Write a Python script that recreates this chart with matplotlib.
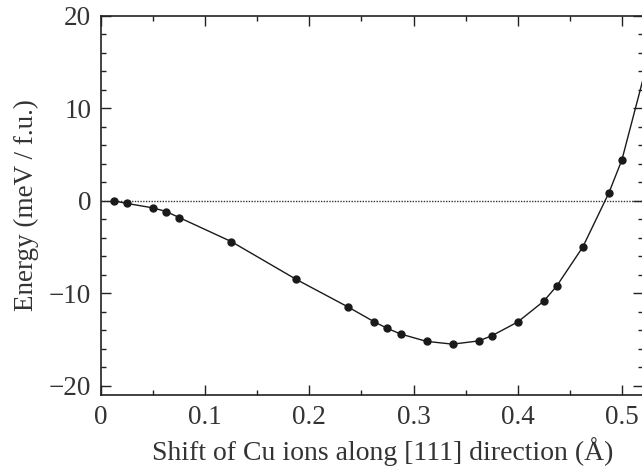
import numpy as np
import matplotlib
matplotlib.use("Agg")
import matplotlib.pyplot as plt
from matplotlib.ticker import MultipleLocator

# shift of Cu ions (Angstrom) and energy (meV / f.u.)
shift = [0.0125, 0.025, 0.05, 0.0625, 0.075, 0.125, 0.1875, 0.2375, 0.2625, 0.275,
         0.2875, 0.3125, 0.3375, 0.3625, 0.375, 0.4, 0.425, 0.4375, 0.4625, 0.4875,
         0.5, 0.525]
energy = [0.0, -0.28, -0.76, -1.15, -1.8, -4.4, -8.5, -11.5, -13.1, -13.8,
          -14.4, -15.2, -15.5, -15.15, -14.6, -13.1, -10.85, -9.2, -4.98, 0.87,
          4.44, 15.2]

plt.rcParams['font.family'] = ['Liberation Serif', 'DejaVu Serif']
plt.rcParams['text.color'] = '#333333'
plt.rcParams['axes.labelcolor'] = '#333333'
plt.rcParams['xtick.labelcolor'] = '#333333'
plt.rcParams['ytick.labelcolor'] = '#333333'

fig = plt.figure(figsize=(6.42, 4.69), dpi=100)
# right spine sits just past the image edge, as in the source figure
ax = fig.add_axes([0.1573, 0.1578, 0.8442, 0.8081])

ax.axhline(0, color='#333333', lw=1.0, ls=(0, (1.0, 1.0)), zorder=1)
ax.plot(shift, energy, '-o', color='#1a1a1a', lw=1.0, ms=5, zorder=3)

ax.set_xlim(0, 0.5202)
ax.set_ylim(-21, 20)
ax.xaxis.set_minor_locator(MultipleLocator(0.05))
ax.yaxis.set_major_locator(MultipleLocator(10))
ax.yaxis.set_minor_locator(MultipleLocator(2))
ax.set_xticks([0, 0.1, 0.2, 0.3, 0.4, 0.5])
ax.set_xticklabels(['0', '0.1', '0.2', '0.3', '0.4', '0.5'])
ax.tick_params(which='both', direction='in', top=True, right=True,
               labelsize=19.5, color='#222222', width=1.0, pad=7)
ax.tick_params(which='major', length=7)
ax.tick_params(which='minor', length=3.5)
for s in ax.spines.values():
    s.set_linewidth(1.2)
    s.set_color('#222222')

ax.set_xlabel('Shift of Cu ions along [111] direction (Å)', fontsize=20, labelpad=5)
ax.xaxis.label.set_x(0.52)
ax.set_ylabel('Energy (meV / f.u.)', fontsize=19.5, labelpad=7)

fig.savefig('out.png', dpi=100)
